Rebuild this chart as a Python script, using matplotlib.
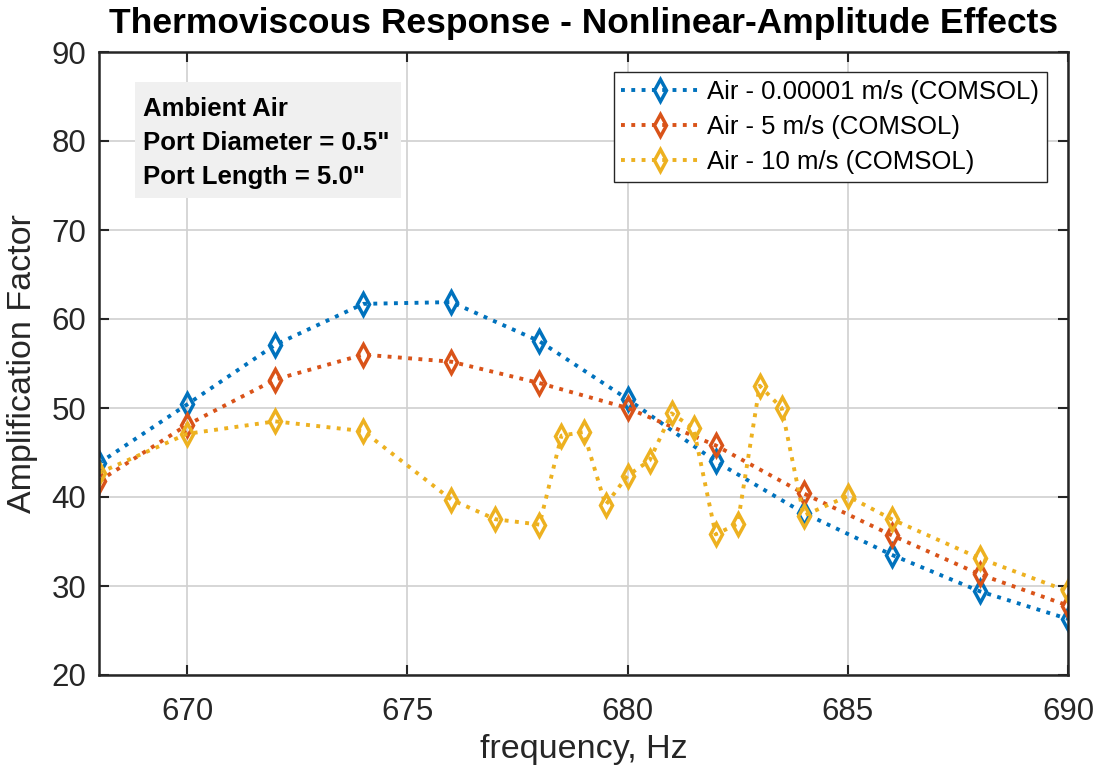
import matplotlib.pyplot as plt
from matplotlib.patches import Rectangle

plt.rcParams['font.family'] = ['Liberation Sans', 'DejaVu Sans']

freq_a = [668, 670, 672, 674, 676, 678, 680, 682, 684, 686, 688, 690]
amp_slow = [43.8, 50.4, 57.1, 61.7, 61.9, 57.5, 51.0, 44.0, 38.2, 33.5, 29.4, 26.3]
amp_5 = [41.8, 48.1, 53.2, 56.0, 55.2, 52.8, 50.0, 45.8, 40.4, 35.7, 31.3, 27.8]

freq_b = [668, 670, 672, 674, 676, 677, 678, 678.5, 679, 679.5, 680, 680.5, 681,
          681.5, 682, 682.5, 683, 683.5, 684, 685, 686, 688, 690]
amp_10 = [42.7, 47.1, 48.5, 47.4, 39.7, 37.5, 36.9, 46.9, 47.3, 39.1, 42.4, 44.1, 49.4,
          47.7, 35.8, 37.0, 52.5, 50.0, 37.9, 40.1, 37.5, 33.1, 29.4]

labels = ['Air - 0.00001 m/s (COMSOL)', 'Air - 5 m/s (COMSOL)', 'Air - 10 m/s (COMSOL)']
colors = ['#0072BD', '#D95319', '#EDB120']
W, H = 1095, 774

fig = plt.figure(figsize=(10.95, 7.74), dpi=100)
ax = fig.add_axes([99 / W, 1 - 675 / H, (1068 - 99) / W, (675 - 52) / H])

sets = [(freq_a, amp_slow), (freq_a, amp_5), (freq_b, amp_10)]
for (x, y), lab, c in zip(sets, labels, colors):
    ax.plot(x, y, ':', color=c, lw=2.8, marker='d', ms=11, mfc='none', mew=2.5, label=lab)

ax.set_xlim(668, 690)
ax.set_ylim(20, 90)
ax.set_xticks([670, 675, 680, 685, 690])
ax.set_yticks(range(20, 91, 10))
ax.grid(True, color='#d0d0d0', lw=1.2)
ax.tick_params(direction='in', length=7, width=1.5, labelsize=22.5, top=True, right=True,
               colors='#262626')
ax.tick_params(axis='x', pad=16)
ax.tick_params(axis='y', pad=9)
for s in ax.spines.values():
    s.set_linewidth(1.8)
    s.set_color('#262626')

ax.set_xlabel('frequency, Hz', fontsize=24.5, color='#262626', labelpad=5)
ax.set_ylabel('Amplification Factor', fontsize=24.5, color='#262626', labelpad=10)
ax.set_title('Thermoviscous Response - Nonlinear-Amplitude Effects', fontsize=25.5,
             fontweight='bold', pad=13.5)

# annotation box
fig.patches.append(Rectangle((135 / W, 1 - 198 / H), (401 - 135) / W, (198 - 82) / H,
                             transform=fig.transFigure, fc='#f0f0f0', ec='none', zorder=3))
fig.text(143 / W, 1 - 97 / H, 'Ambient Air\nPort Diameter = 0.5"\nPort Length = 5.0"',
         fontsize=18.5, fontweight='bold', va='top', ha='left', linespacing=1.52, zorder=4)

leg = ax.legend(loc='upper right', bbox_to_anchor=(1047 / W, 1 - 72 / H),
                bbox_transform=fig.transFigure, borderaxespad=0, fontsize=18.5,
                fancybox=False, edgecolor='#262626', framealpha=1, borderpad=0.3,
                handlelength=3.0, handletextpad=0.35, labelspacing=0.43)
leg.get_frame().set_linewidth(1.0)

fig.savefig('out.png', dpi=100)
